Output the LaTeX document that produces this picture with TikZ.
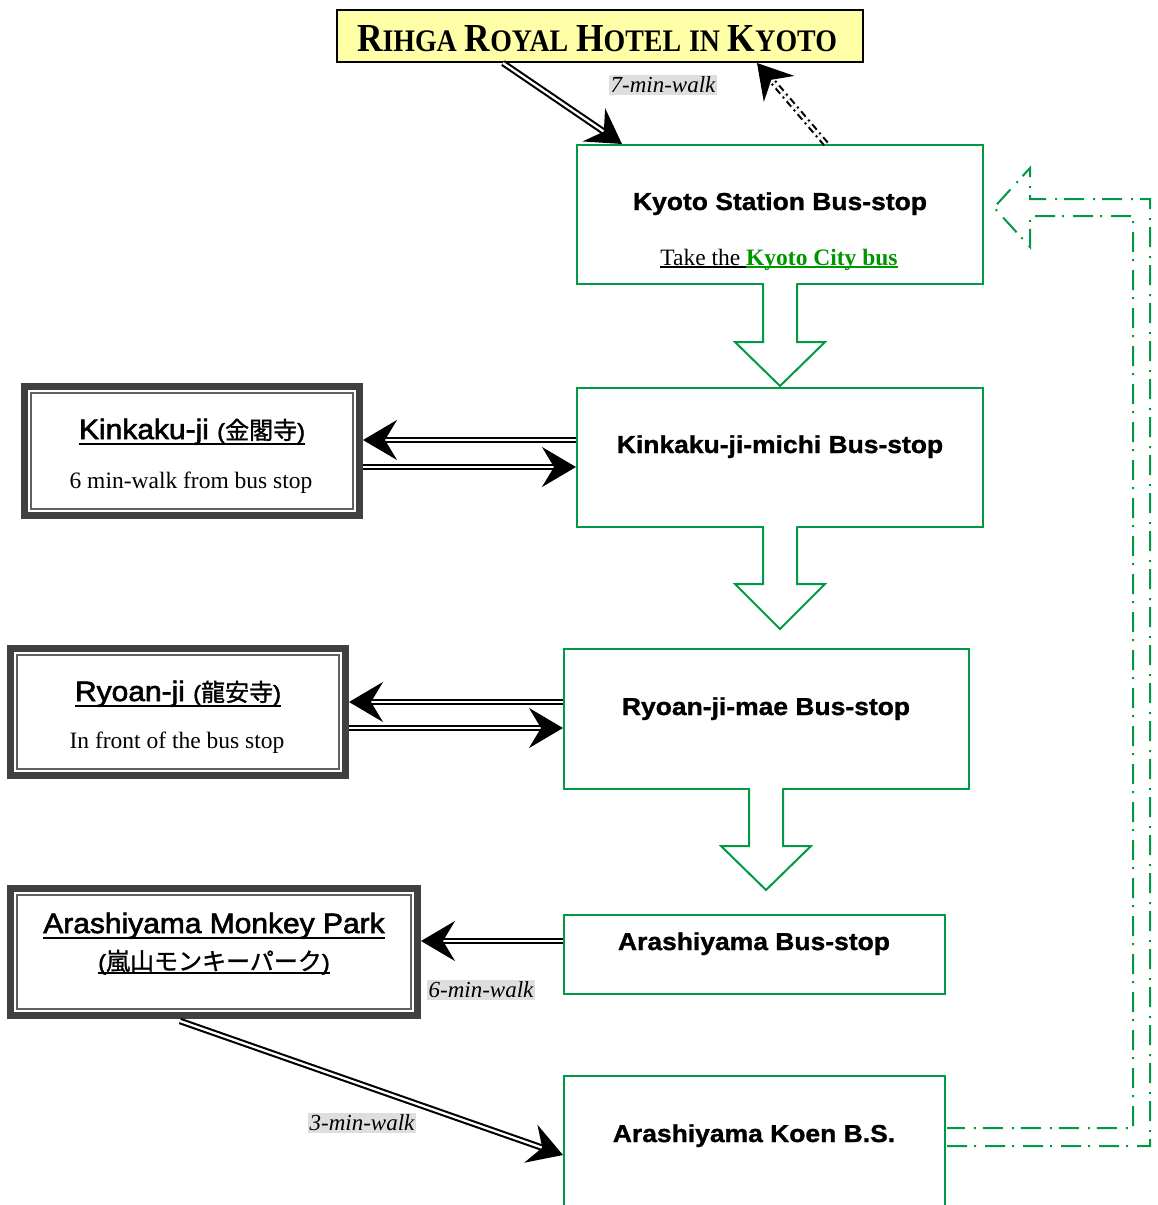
\documentclass[tikz,border=0pt]{standalone}
\usepackage{graphicx}
\usepackage{fontspec}
\setmainfont{Liberation Serif}
\newfontfamily\boxsans[FakeStretch=1.08,BoldFeatures={FakeBold=1.2}]{Liberation Sans}
\newfontfamily\titlesans[FakeStretch=1.07,FakeBold=2.2]{Liberation Sans}
\newfontfamily\cjk[FakeBold=1.2]{Noto Sans CJK JP}
\usetikzlibrary{arrows.meta,calc}
\definecolor{bsgreen}{RGB}{0,153,68}
\definecolor{linkgreen}{RGB}{0,150,0}
\definecolor{hotelyellow}{RGB}{255,255,168}
\definecolor{framegray}{RGB}{64,64,64}
\definecolor{innergray}{RGB}{96,96,96}
\definecolor{labelgray}{RGB}{222,222,222}
\newcommand{\hsc}[2]{{\fontsize{38}{40}\selectfont #1}{\fontsize{30}{32}\selectfont #2}}
\newcommand{\jtxt}[1]{{\cjk\fontsize{24}{26}\selectfont #1}}
\newcommand{\myul}[2][4.5pt]{\setbox0\hbox{#2}\leavevmode\rlap{\raisebox{-#1}{\rule{\wd0}{1.7pt}}}\box0}
\begin{document}
\begin{tikzpicture}[x=1pt,y=-1pt,
  hotelbox/.style={draw=black,line width=2pt,fill=hotelyellow,minimum width=526pt,minimum height=52pt,inner sep=0pt},
  stopbox/.style={draw=bsgreen,line width=2pt,fill=white,inner sep=0pt},
  sightbox/.style={draw=framegray,line width=7pt,fill=white,inner sep=0pt},
  stoptext/.style={anchor=base,inner sep=0pt,font=\boxsans\bfseries\fontsize{24.5}{26}\selectfont},
  titletext/.style={anchor=base,inner sep=0pt,font=\titlesans\fontsize{28}{30}\selectfont},
  subtext/.style={anchor=base,inner sep=0pt,font=\fontsize{23.5}{26}\selectfont},
  walklabel/.style={fill=labelgray,inner sep=1.5pt,font=\itshape\fontsize{23}{25}\selectfont},
  walk/.style={draw=black,line width=2.1pt,double=white,double distance=2.3pt,
     -{Stealth[length=34pt,width=40pt,inset=12pt]}},
  blockarrow/.style={draw=bsgreen,line width=2pt,fill=white,line join=miter},
  flow/.style={draw=bsgreen,line width=2pt,dash pattern=on 20pt off 7pt on 2pt off 9pt}
]
\useasboundingbox (0,0) rectangle (1157,1205);
\clip (0,0) rectangle (1157,1205);

% ---- boxes ----
\node[hotelbox] (hotel) at (600,36) {};
\node[stopbox,minimum width=406pt,minimum height=139pt] (kyoto) at (780,214.5) {};
\node[stopbox,minimum width=406pt,minimum height=139pt] (michi) at (780,457.5) {};
\node[stopbox,minimum width=405pt,minimum height=140pt] (ryoanmae) at (766.5,719) {};
\node[stopbox,minimum width=381pt,minimum height=79pt] (arashi) at (754.5,954.5) {};
\node[stopbox,minimum width=381pt,minimum height=158pt] (koen) at (754.5,1155) {};

\node[sightbox,minimum width=335pt,minimum height=129pt] (kin) at (192,451) {};
\node[sightbox,minimum width=335pt,minimum height=127pt] (ryo) at (178,712) {};
\node[sightbox,minimum width=407pt,minimum height=127pt] (mon) at (214,952) {};
\foreach \b in {kin,ryo,mon}{
  \draw[innergray,line width=1.8pt] ($(\b.north west)+(10,10)$) rectangle ($(\b.south east)+(-10,-10)$);
}

% ---- texts ----
\node[anchor=base,inner sep=0pt] (hoteltext) at (597,51)
  {\resizebox{480pt}{26pt}{\bfseries\fontsize{34}{36}\selectfont\hsc{R}{IHGA} \hsc{R}{OYAL} \hsc{H}{OTEL} {\fontsize{30}{32}\selectfont IN} \hsc{K}{YOTO}}};
\node[stoptext] (kyototext) at (780,210) {Kyoto Station Bus-stop};
\node[subtext] (bustext) at (779,265) {\myul[3pt]{Take the }\textcolor{linkgreen}{\myul[3pt]{\textbf{Kyoto City bus}}}};
\node[stoptext] (michitext) at (780,453) {Kinkaku-ji-michi Bus-stop};
\node[stoptext] (ryoanmaetext) at (766,715) {Ryoan-ji-mae Bus-stop};
\node[stoptext] (arashitext) at (754,950) {Arashiyama Bus-stop};
\node[stoptext] (koentext) at (754,1142) {Arashiyama Koen B.S.};

\node[titletext] (kintitle) at (192,439) {\myul[5.5pt]{Kinkaku-ji {\fontsize{22}{24}\selectfont(}\jtxt{金閣寺}{\fontsize{22}{24}\selectfont)}}};
\node[subtext] (kinsub) at (191,488) {6 min-walk from bus stop};
\node[titletext] (ryotitle) at (178,701) {\myul[5.5pt]{Ryoan-ji {\fontsize{22}{24}\selectfont(}\jtxt{龍安寺}{\fontsize{22}{24}\selectfont)}}};
\node[subtext] (ryosub) at (177,748) {In front of the bus stop};
\node[titletext] (montitle) at (214,933) {\myul[5.5pt]{Arashiyama Monkey Park}};
\node[titletext] (monjp) at (214,970) {\myul[4pt]{{\fontsize{22}{24}\selectfont(}\jtxt{嵐山モンキーパーク}{\fontsize{22}{24}\selectfont)}}};

% ---- block arrows ----
\foreach \x/\t/\b/\p in {780/285/342/386, 780/528/584/629, 766/790/846/890}{
  \fill[white] (\x-16,\t-2) -- (\x-16,\b) -- (\x-44,\b) -- (\x,\p) -- (\x+44,\b) -- (\x+16,\b) -- (\x+16,\t-2) -- cycle;
  \draw[blockarrow] (\x-17,\t) -- (\x-17,\b) -- (\x-45,\b) -- (\x,\p) -- (\x+45,\b) -- (\x+17,\b) -- (\x+17,\t);
}

% ---- walking connectors ----
\draw[walk] ($(hotel.south west)+(167,0)$) -- ($(kyoto.north west)+(46,0)$);
\node[walklabel] (walk7) at (663,85) {7-min-walk};
\draw[walk,dash pattern=on 7pt off 4pt on 2pt off 4pt] ($(kyoto.north west)+(250,0)$) -- ($(hotel.south west)+(421,0)$);

\draw[walk] ($(michi.west)+(0,-17.5)$) -- ($(kin.east)+(0,-11)$);
\draw[walk] ($(kin.east)+(0,16)$) -- ($(michi.west)+(0,9.5)$);
\draw[walk] ($(ryoanmae.west)+(0,-17)$) -- ($(ryo.east)+(0,-10)$);
\draw[walk] ($(ryo.east)+(0,16)$) -- ($(ryoanmae.west)+(0,9)$);
\draw[walk] ($(arashi.west)+(0,-13.5)$) -- ($(mon.east)+(0,-11)$);
\node[walklabel] (walk6) at (481,990) {6-min-walk};
\draw[walk] ($(mon.south west)+(173,2)$) -- (koen.west);
\node[walklabel] (walk3) at (362,1123) {3-min-walk};

% ---- return flow arrow ----
\draw[flow] (947,1146) -- (1150,1146) -- (1150,199) -- (1030,199) -- (1030,168) -- (994,207.5) -- (1030,247) -- (1030,216) -- (1133,216) -- (1133,1128) -- (947,1128);
\end{tikzpicture}
\end{document}
